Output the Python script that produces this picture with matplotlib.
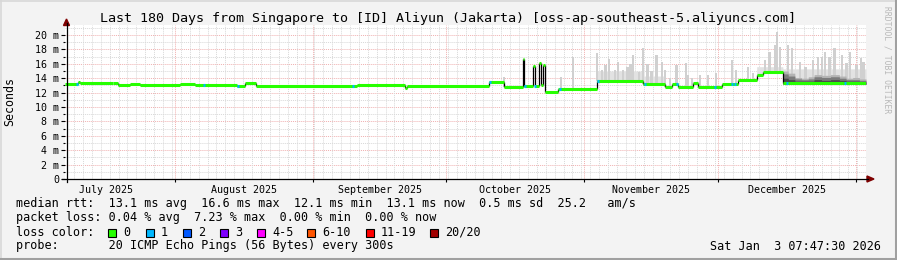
import matplotlib
matplotlib.use("Agg")
import matplotlib.pyplot as plt
from matplotlib.patches import Rectangle, Polygon
from matplotlib.lines import Line2D
from datetime import datetime
import numpy as np

W, H = 897, 260
MONO = "DejaVu Sans Mono"

# x axis is "days since start of the 180 day window"
t_start = datetime(2025, 7, 7, 7, 47, 30)
month_starts = [datetime(2025, 7, 1), datetime(2025, 8, 1), datetime(2025, 9, 1),
                datetime(2025, 10, 1), datetime(2025, 11, 1), datetime(2025, 12, 1),
                datetime(2026, 1, 1)]
month_labels = ["July 2025", "August 2025", "September 2025",
                "October 2025", "November 2025", "December 2025"]

# median rtt in ms, step function: value holds from med_day[i] to med_day[i+1]
med_day = [0.0, 2.9, 3.3, 10.7, 11.9, 14.6, 16.8, 25.8, 29.2, 38.6, 40.4, 42.9,
           65.6, 76.3, 76.8, 95.2, 98.6, 102.9, 103.2, 105.1, 105.6, 106.5, 106.9,
           107.3, 107.8, 110.7, 119.5, 129.8, 134.8, 136.3, 137.7, 141.0, 142.2,
           147.6, 151.2, 155.4, 156.8, 161.3, 180.0]
med_ms = [13.25, 13.5, 13.3, 13.4, 13.05, 13.15, 13.1, 13.2, 13.05, 12.9, 13.35, 12.9,
          13.0, 12.65, 12.9, 13.5, 12.8, 16.6, 12.85, 15.7, 12.9, 16.1, 13.0,
          15.8, 12.1, 12.5, 13.65, 13.15, 12.8, 13.15, 12.8, 13.3, 12.8,
          13.15, 13.75, 14.4, 14.9, 13.3, 13.3]

# samples where 1 of 20 pings was lost
loss1_day = [2.7, 31.2, 38.8, 64.7, 95.4, 103.3, 105.6, 111.2, 119.7, 130.3,
             137.4, 146.0, 149.8, 150.5, 162.2, 175.2]

# single smoke strips (max rtt of a sample), ms
smoke_day = [98.6, 111.4, 114.1, 119.5, 120.6, 121.4, 122.2, 123.5, 124.2, 125.3,
             126.4, 127.0, 127.6, 128.9, 129.8, 130.9, 131.8, 132.9, 134.1, 134.8,
             135.9, 137.4, 139.5, 139.9, 140.8, 142.6, 144.4, 146.2, 149.8, 150.7,
             153.4, 154.5, 157.2, 158.3, 159.5, 159.9, 160.6, 162.4, 163.3, 165.1,
             166.4, 168.0, 169.2, 170.1, 170.8, 171.8, 172.9, 174.5, 175.6, 176.3,
             177.8, 178.8, 179.4]
smoke_top = [14.2, 14.1, 17.0, 17.5, 15.1, 15.9, 16.7, 15.1, 16.3, 15.1,
             15.6, 16.0, 17.2, 14.9, 18.2, 16.0, 15.0, 17.2, 16.3, 15.1,
             14.0, 15.8, 16.1, 14.4, 14.0, 14.4, 14.4, 14.7, 16.5, 15.1,
             15.6, 14.7, 16.5, 17.7, 18.6, 20.4, 18.4, 18.6, 18.2, 16.3,
             15.6, 16.5, 17.0, 17.0, 17.7, 17.0, 18.2, 17.2, 16.1, 17.7,
             15.8, 16.8, 16.3]

# light smoke band (step function)
haze_day = [119.5, 129.8, 134.8, 155.4, 161.3, 180.0]
haze_top = [15.0, 14.3, 0.0, 15.6, 15.3, 15.3]

# dense smoke in the last weeks (three shades, step function)
dense_day = [161.3, 162.5, 164.0, 165.5, 167.0, 168.3, 170.0, 172.0, 174.0,
             175.5, 177.0, 178.5, 180.0]
dense_top = [15.0, 14.7, 14.1, 14.0, 14.2, 14.5, 14.4, 14.5, 14.3, 14.0, 14.1, 13.9, 13.9]
dense_mid = [14.6, 14.3, 13.9, 13.8, 13.9, 14.2, 14.1, 14.2, 14.0, 13.8, 13.8, 13.7, 13.7]
dense_core = [14.0, 13.8, 13.6, 13.6, 13.6, 13.8, 13.7, 13.8, 13.7, 13.6, 13.6, 13.5, 13.5]

loss_labels = ["0", "1", "2", "3", "4-5", "6-10", "11-19", "20/20"]
loss_colors = ["#26ff00", "#00b8ff", "#0059ff", "#7e00ff", "#ff00ff",
               "#ff5500", "#ff0000", "#a10000"]


def days(d):
    return (d - t_start).total_seconds() / 86400.0


def step_at(xs, ys, x):
    idx = np.clip(np.searchsorted(xs, x, side="right") - 1, 0, len(ys) - 1)
    return np.asarray(ys)[idx]


def fx(px):
    return px / W


def fy(py):
    return 1 - py / H


fig = plt.figure(figsize=(W / 100, H / 100), dpi=100)
fig.patch.set_facecolor("#f3f3f3")
ax = fig.add_axes([fx(65.2), 81 / H, 801 / W, 154 / H])
ax.set_facecolor("white")
ax.set_xlim(0, 180)
ax.set_ylim(0, 21.39)
for s in ax.spines.values():
    s.set_visible(False)

# grid
dot = (0, (1.0, 1.0))
for v in np.arange(1, 22, 1):
    major = v % 2 == 0
    ax.axhline(v, color="#f0b0b0" if major else "#d8d8d8", lw=0.7, ls=dot, zorder=0.5)
for v in np.arange(1.98, 180, 2.0):
    ax.axvline(v, color="#d8d8d8", lw=0.7, ls=dot, zorder=0.5)
m_days = [days(m) for m in month_starts]
for v in m_days[1:]:
    ax.axvline(v, color="#f0b0b0", lw=0.7, ls=dot, zorder=0.6)

# smoke
xf = np.linspace(0, 180, 3601)
med_f = step_at(med_day, med_ms, xf)
hmask = (xf >= haze_day[0]) & (xf < haze_day[-1])
haze_f = np.where(hmask, step_at(haze_day, haze_top, xf), 0)
ax.fill_between(xf, med_f, np.maximum(haze_f, med_f), color="#e2e2e2", lw=0, zorder=1)
dmask = (xf >= dense_day[0]) & (xf < dense_day[-1])
for arr, col, z in [(dense_top, "#b4b4b4", 1.2), (dense_mid, "#7c7c7c", 1.3),
                    (dense_core, "#4a4a4a", 1.4)]:
    top_f = step_at(dense_day, arr, xf)
    ax.fill_between(xf, med_f - 0.15, np.maximum(top_f, med_f), where=dmask,
                    color=col, lw=0, zorder=z)
sbase = step_at(med_day, med_ms, np.array(smoke_day))
ax.bar(smoke_day, np.array(smoke_top) - sbase, bottom=sbase, width=0.55,
       color="#d0d0d0", lw=0, zorder=1.1)

# median line: black risers, green treads
ax.vlines(med_day[1:-1], med_ms[:-2], med_ms[1:-1], color="black", lw=0.9, zorder=3)
ax.hlines(med_ms[:-1], med_day[:-1], med_day[1:], color=loss_colors[0], lw=2.2, zorder=4)
lb = step_at(med_day, med_ms, np.array(loss1_day))
ax.hlines(lb, np.array(loss1_day) - 0.2, np.array(loss1_day) + 0.2,
          color=loss_colors[1], lw=2.2, zorder=5)

# ticks
ax.set_yticks(np.arange(0, 21, 2))
ax.set_yticklabels(["0" if v == 0 else f"{v} m" for v in range(0, 21, 2)])
ax.set_yticks(np.arange(1, 21, 2), minor=True)
mid = [(a + b) / 2 for a, b in zip(m_days[:-1], m_days[1:])]
ax.set_xticks(mid)
ax.set_xticklabels(month_labels)
ax.set_xticks([v for v in m_days if 0 < v < 180], minor=True)
ax.tick_params(axis="y", which="major", length=3, width=0.8, pad=1.5,
               labelsize=7.2, colors="black")
ax.tick_params(axis="y", which="minor", length=1.5, width=0.8)
ax.tick_params(axis="x", which="major", length=0, pad=4, labelsize=7.2)
ax.tick_params(axis="x", which="minor", length=2.5, width=0.8)
for lab in ax.get_xticklabels() + ax.get_yticklabels():
    lab.set_fontfamily(MONO)

# axis lines with arrows
fig.add_artist(Line2D([fx(62), fx(868)], [fy(179), fy(179)], color="black", lw=0.9))
fig.add_artist(Line2D([fx(66.5), fx(66.5)], [fy(182), fy(23)], color="black", lw=0.9))
fig.add_artist(Polygon([(fx(63.5), fy(25.5)), (fx(69.5), fy(25.5)), (fx(66.5), fy(19))],
                       closed=True, color="#7f0000", transform=fig.transFigure))
fig.add_artist(Polygon([(fx(867), fy(176)), (fx(867), fy(182)), (fx(874), fy(179))],
                       closed=True, color="#7f0000", transform=fig.transFigure))

# texts
fig.text(fx(448), fy(18.5), "Last 180 Days from Singapore to [ID] Aliyun (Jakarta) "
         "[oss-ap-southeast-5.aliyuncs.com]", ha="center", va="center",
         family=MONO, fontsize=9.6)
fig.text(fx(10), fy(102), "Seconds", rotation=90, ha="center", va="center",
         family=MONO, fontsize=8.4)
fig.text(fx(887), fy(60), "RRDTOOL / TOBI OETIKER", rotation=270, ha="center",
         va="center", family=MONO, fontsize=5.8, color="#b8b8b8")

lfs = 8.5
fig.text(fx(16), fy(204), "median rtt:  13.1 ms avg  16.6 ms max  12.1 ms min  "
         "13.1 ms now  0.5 ms sd  25.2   am/s", va="center", family=MONO, fontsize=lfs)
fig.text(fx(16), fy(218), "packet loss: 0.04 % avg  7.23 % max  0.00 % min  0.00 % now",
         va="center", family=MONO, fontsize=lfs)
fig.text(fx(16), fy(232), "loss color:", va="center", family=MONO, fontsize=lfs)
swatch_x = [108, 146, 183, 220, 257, 307, 366, 430]
for sx, lab, col in zip(swatch_x, loss_labels, loss_colors):
    fig.add_artist(Rectangle((fx(sx), fy(236.5)), 8 / W, 8 / H, facecolor=col,
                             edgecolor="black", lw=0.8, transform=fig.transFigure))
    fig.text(fx(sx + 15), fy(232), lab, va="center", family=MONO, fontsize=lfs)
fig.text(fx(16), fy(246), "probe:       20 ICMP Echo Pings (56 Bytes) every 300s",
         va="center", family=MONO, fontsize=lfs)
fig.text(fx(881), fy(246), "Sat Jan  3 07:47:30 2026", ha="right", va="center",
         family=MONO, fontsize=lfs)

# frame
fig.add_artist(Line2D([0, 1], [fy(0.5), fy(0.5)], color="#d8d8d8", lw=1.2))
fig.add_artist(Line2D([fx(0.5), fx(0.5)], [0, 1], color="#d8d8d8", lw=1.2))
fig.add_artist(Line2D([0, 1], [fy(258.5), fy(258.5)], color="#a0a0a0", lw=2.2))
fig.add_artist(Line2D([fx(895.5), fx(895.5)], [0, 1], color="#a0a0a0", lw=2.2))

fig.savefig("out.png", dpi=100, facecolor=fig.get_facecolor())
